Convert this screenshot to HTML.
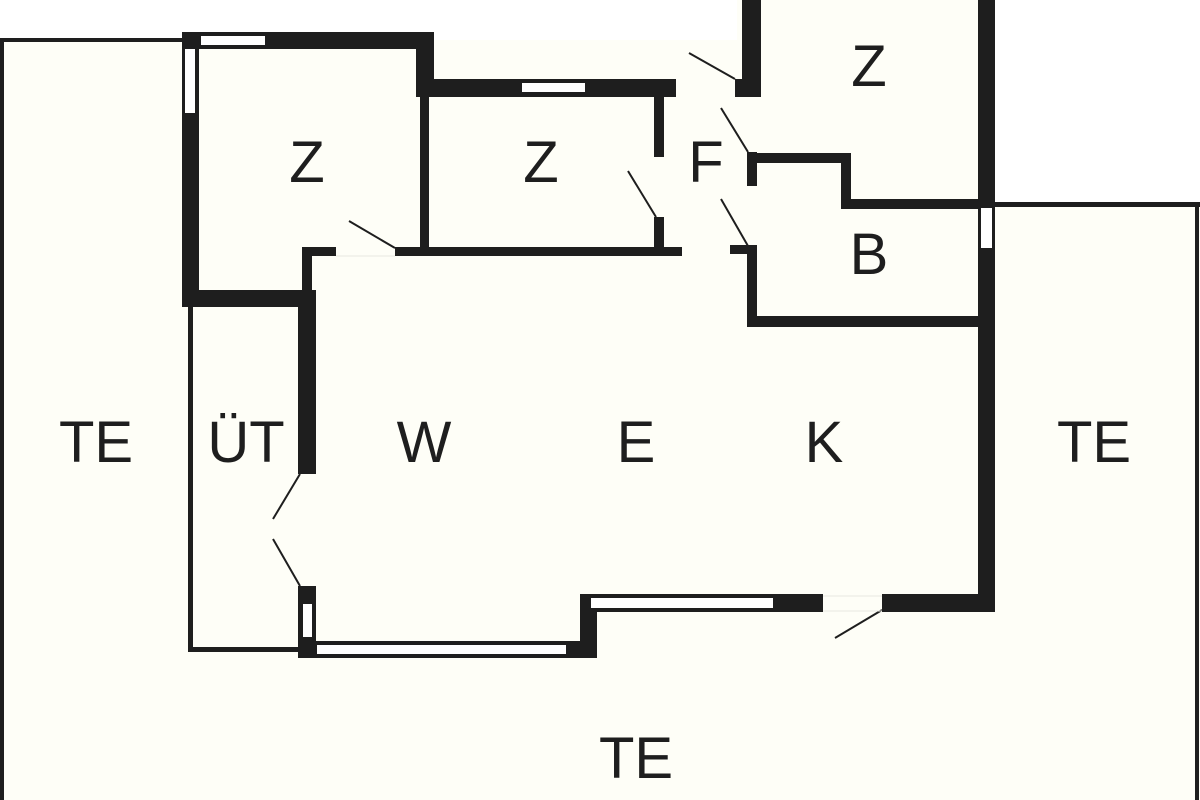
<!DOCTYPE html>
<html><head><meta charset="utf-8"><style>
html,body{margin:0;padding:0;background:#fff;}
svg{display:block}
text{font-family:"Liberation Sans",sans-serif;font-size:58px;fill:#1e1e1e;text-anchor:middle}
</style></head><body>
<svg width="1200" height="800" viewBox="0 0 1200 800" xmlns="http://www.w3.org/2000/svg">
<rect x="0" y="0" width="1200" height="800" fill="#ffffff"/>
<!-- floor fills -->
<rect x="0" y="40" width="1200" height="760" fill="#fefef7"/>
<rect x="995" y="0" width="205" height="204" fill="#ffffff"/>
<rect x="182" y="32" width="252" height="10" fill="#fefef7"/>
<rect x="416" y="79" width="340" height="20" fill="#fefef7"/>
<rect x="737" y="0" width="258" height="90" fill="#fefef7"/>
<g fill="#1e1e1e">
<!-- outer thin lines -->
<rect x="0" y="38" width="184" height="4"/>
<rect x="0" y="40" width="4" height="760"/>
<rect x="995" y="202" width="205" height="5"/>
<rect x="1195" y="204" width="4" height="596"/>
<!-- Z1 -->
<rect x="182" y="32" width="17" height="275"/>
<rect x="182" y="32" width="252" height="17"/>
<rect x="416" y="32" width="18" height="65"/>
<rect x="182" y="290" width="134" height="17"/>
<!-- Z2 -->
<rect x="416" y="79" width="260" height="18"/>
<rect x="420" y="97" width="9" height="153"/>
<rect x="395" y="247" width="287" height="9"/>
<rect x="302" y="247" width="34" height="9"/>
<rect x="302" y="247" width="10" height="45"/>
<rect x="654" y="97" width="10" height="60"/>
<rect x="654" y="217" width="10" height="32"/>
<!-- Z right -->
<rect x="742" y="0" width="19" height="97"/>
<rect x="735" y="79" width="26" height="18"/>
<rect x="978" y="0" width="17" height="612"/>
<!-- B -->
<rect x="747" y="152" width="10" height="34"/>
<rect x="747" y="153" width="104" height="10"/>
<rect x="841" y="153" width="10" height="56"/>
<rect x="841" y="199" width="140" height="10"/>
<rect x="730" y="245" width="27" height="9"/>
<rect x="747" y="245" width="10" height="82"/>
<rect x="747" y="316" width="234" height="11"/>
<!-- W wall / UT -->
<rect x="298" y="290" width="18" height="184"/>
<rect x="298" y="586" width="18" height="72"/>
<rect x="188" y="307" width="5" height="345"/>
<rect x="188" y="647" width="112" height="5"/>
<rect x="298" y="641" width="299" height="17"/>
<rect x="580" y="594" width="17" height="64"/>
<rect x="580" y="594" width="243" height="18"/>
<rect x="882" y="594" width="113" height="18"/>
</g>
<!-- windows -->
<g fill="#ffffff">
<rect x="201" y="36" width="64" height="9"/>
<rect x="185" y="49" width="10" height="64"/>
<rect x="522" y="83" width="63" height="9"/>
<rect x="981" y="208" width="11" height="40"/>
<rect x="303" y="604" width="9" height="33"/>
<rect x="317" y="645" width="249" height="9"/>
<rect x="591" y="598" width="182" height="10"/>
</g>
<!-- doors -->
<g stroke="#1e1e1e" stroke-width="2" fill="none">
<line x1="349" y1="221" x2="395" y2="248"/>
<line x1="628" y1="171" x2="656" y2="217"/>
<line x1="689" y1="53" x2="735" y2="79"/>
<line x1="721" y1="108" x2="748" y2="152"/>
<line x1="721" y1="199" x2="748" y2="246"/>
<line x1="300" y1="474" x2="273" y2="519"/>
<line x1="273" y1="539" x2="300" y2="586"/>
<line x1="835" y1="638" x2="882" y2="610"/>
</g>
<g stroke="#e8e8e0" stroke-width="1" fill="none">
<line x1="336" y1="256" x2="395" y2="256"/>
<line x1="823" y1="596" x2="882" y2="596"/>
<line x1="823" y1="611" x2="882" y2="611"/>
</g>
<text x="307" y="182">Z</text>
<text x="541" y="182">Z</text>
<text x="869" y="86">Z</text>
<text x="706" y="182">F</text>
<text x="869" y="274">B</text>
<text x="96" y="462">TE</text>
<text x="246" y="462">ÜT</text>
<text x="424" y="462">W</text>
<text x="636" y="462">E</text>
<text x="824" y="462">K</text>
<text x="1094" y="462">TE</text>
<text x="636" y="778">TE</text>
</svg>
</body></html>
